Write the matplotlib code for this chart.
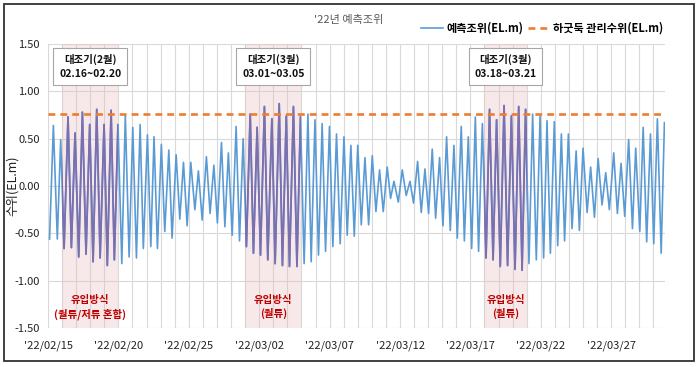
"""Predicted tide level chart, Feb-Mar 2022."""

import matplotlib

matplotlib.use("Agg")
import matplotlib.pyplot as plt
from matplotlib.patches import Rectangle

plt.rcParams["font.family"] = ["Noto Sans CJK KR", "DejaVu Sans"]

# time in days after 2022-02-15 00:00, tide level (EL.m) at each high / low water
tide_days = [
    0.11, 0.38, 0.66, 0.90, 1.14, 1.42, 1.66, 1.92, 2.18, 2.44,
    2.70, 2.96, 3.20, 3.46, 3.70, 3.98, 4.21, 4.48, 4.71, 4.97,
    5.24, 5.49, 5.76, 6.02, 6.28, 6.54, 6.77, 7.06, 7.30, 7.53,
    7.77, 8.05, 8.29, 8.58, 8.81, 9.10, 9.36, 9.62, 9.88, 10.14,
    10.43, 10.68, 10.95, 11.25, 11.51, 11.78, 12.03, 12.32, 12.56, 12.81,
    13.08, 13.36, 13.60, 13.86, 14.09, 14.36, 14.59, 14.85, 15.09, 15.37,
    15.61, 15.90, 16.13, 16.42, 16.65, 16.92, 17.15, 17.43, 17.68, 17.93,
    18.19, 18.46, 18.69, 18.96, 19.21, 19.47, 19.71, 19.99, 20.23, 20.49,
    20.75, 21.02, 21.25, 21.51, 21.75, 22.00, 22.25, 22.51, 22.77, 23.03,
    23.29, 23.55, 23.81, 24.09, 24.33, 24.57, 24.88, 25.16, 25.44, 25.71,
    25.96, 26.25, 26.51, 26.77, 27.03, 27.29, 27.53, 27.81, 28.05, 28.31,
    28.57, 28.83, 29.07, 29.35, 29.57, 29.85, 30.09, 30.35, 30.58, 30.85,
    31.11, 31.36, 31.61, 31.86, 32.12, 32.39, 32.64, 32.91, 33.17, 33.43,
    33.67, 33.92, 34.16, 34.42, 34.68, 34.95, 35.20, 35.44, 35.68, 35.96,
    36.20, 36.46, 36.69, 36.96, 37.22, 37.51, 37.74, 38.00, 38.29, 38.54,
    38.81, 39.07, 39.35, 39.61, 39.87, 40.18, 40.44, 40.70, 40.96, 41.24,
    41.51, 41.74, 42.03, 42.27, 42.52, 42.79, 43.02, 43.28, 43.55, 43.78,
]
tide_level = [
    -0.56, 0.64, -0.56, 0.49, -0.66, 0.73, -0.65, 0.56, -0.75, 0.78,
    -0.72, 0.65, -0.80, 0.81, -0.76, 0.65, -0.84, 0.80, -0.78, 0.65,
    -0.82, 0.75, -0.75, 0.62, -0.76, 0.65, -0.66, 0.54, -0.64, 0.52,
    -0.66, 0.44, -0.48, 0.38, -0.55, 0.33, -0.35, 0.25, -0.42, 0.25,
    -0.25, 0.16, -0.36, 0.31, -0.29, 0.22, -0.39, 0.46, -0.43, 0.35,
    -0.52, 0.63, -0.58, 0.50, -0.64, 0.76, -0.71, 0.62, -0.73, 0.84,
    -0.78, 0.71, -0.82, 0.87, -0.84, 0.74, -0.85, 0.84, -0.85, 0.73,
    -0.82, 0.76, -0.80, 0.70, -0.73, 0.66, -0.69, 0.63, -0.64, 0.55,
    -0.61, 0.52, -0.52, 0.43, -0.53, 0.43, -0.41, 0.30, -0.41, 0.32,
    -0.27, 0.17, -0.27, 0.20, -0.13, 0.05, -0.17, 0.17, -0.10, 0.05,
    -0.18, 0.26, -0.28, 0.18, -0.29, 0.39, -0.34, 0.30, -0.42, 0.52,
    -0.47, 0.43, -0.55, 0.63, -0.58, 0.52, -0.66, 0.73, -0.69, 0.66,
    -0.76, 0.81, -0.78, 0.70, -0.85, 0.85, -0.84, 0.74, -0.88, 0.84,
    -0.89, 0.81, -0.82, 0.76, -0.78, 0.74, -0.76, 0.69, -0.71, 0.68,
    -0.63, 0.55, -0.58, 0.55, -0.45, 0.37, -0.47, 0.40, -0.28, 0.20,
    -0.33, 0.29, -0.20, 0.14, -0.25, 0.35, -0.29, 0.24, -0.32, 0.49,
    -0.45, 0.40, -0.48, 0.62, -0.59, 0.55, -0.61, 0.71, -0.71, 0.67,
]
barrage_level = 0.76

# spring-tide periods (days after 02/15)
spring_start = [1, 14, 31]
spring_end = [5, 18, 34]
spring_titles = ["대조기(2월)\n02.16~02.20", "대조기(3월)\n03.01~03.05", "대조기(3월)\n03.18~03.21"]
inflow_notes = ["유입방식\n(월류/저류 혼합)", "유입방식\n(월류)", "유입방식\n(월류)"]

tick_days = [0, 5, 10, 15, 20, 25, 30, 35, 40]
tick_labels = ["'22/02/15", "'22/02/20", "'22/02/25", "'22/03/02", "'22/03/07",
               "'22/03/12", "'22/03/17", "'22/03/22", "'22/03/27"]

BLUE = "#5B9BD5"
PURPLE = "#7B6FB0"
ORANGE = "#ED7D31"

fig = plt.figure(figsize=(6.98, 3.67), dpi=100)
ax = fig.add_axes([0.0688, 0.1063, 0.8839, 0.7737])

ax.set_xlim(0, 43.82)
ax.set_ylim(-1.5, 1.5)
ax.set_yticks([-1.5, -1.0, -0.5, 0.0, 0.5, 1.0, 1.5])
ax.set_yticklabels([f"{v:.2f}" for v in ax.get_yticks()])
ax.set_xticks(tick_days)
ax.set_xticklabels(tick_labels)
ax.set_xticks(range(0, 44), minor=True)
ax.tick_params(which="both", length=0, labelsize=8, colors="#222222")
ax.tick_params(axis="x", pad=9)
ax.tick_params(axis="y", pad=6)
ax.grid(True, which="both", axis="x", color="#D9D9D9", lw=0.8)
ax.grid(True, which="major", axis="y", color="#D9D9D9", lw=0.8)
ax.set_axisbelow(True)
for s in ax.spines.values():
    s.set_visible(False)

ax.plot(tide_days, tide_level, color=BLUE, lw=1.2, zorder=3, solid_joinstyle="round",
        label="예측조위(EL.m)")
ax.axhline(barrage_level, color=ORANGE, lw=1.9, dashes=(2.6, 1.9), zorder=4,
           label="하굿둑 관리수위(EL.m)")

for x0, x1, title, note in zip(spring_start, spring_end, spring_titles, inflow_notes):
    span = ax.axvspan(x0, x1, color="#E6B8B7", alpha=0.3, lw=0, zorder=2)
    # purple copy of the tide curve, only visible inside the spring-tide band
    seg, = ax.plot(tide_days, tide_level, color=PURPLE, lw=1.3, zorder=3.5,
                   solid_joinstyle="round")
    seg.set_clip_path(span)
    xc = (x0 + x1) / 2
    ax.text(xc, 1.26, title, ha="center", va="center", fontsize=7.5, fontweight="bold",
            linespacing=1.5, color="#111111", zorder=6,
            bbox=dict(boxstyle="square,pad=0.55", fc="white", ec="#A6A6A6", lw=0.8))
    ax.text(xc, -1.28, note, ha="center", va="center", fontsize=7.5, fontweight="bold",
            linespacing=1.35, color="#C00000", zorder=6)

fig.text(349 / 698, 1 - 20 / 367, "'22년 예측조위", ha="center", va="center",
         fontsize=8, color="#595959")
fig.text(12 / 698, 0.493, "수위(EL.m)", rotation=90, ha="center", va="center",
         fontsize=9, color="#222222")

leg = ax.legend(loc="center right", bbox_to_anchor=(0.965, 1 - 28 / 367),
                bbox_transform=fig.transFigure, ncol=2, frameon=False,
                handlelength=2.0, handletextpad=0.3, columnspacing=0.4,
                prop={"size": 8, "weight": "bold"})

fig.patches.append(Rectangle((4 / 698, 6 / 367), 690 / 698, 357 / 367,
                             transform=fig.transFigure, fill=False,
                             ec="#333333", lw=1.3))

fig.savefig("out.png", dpi=100)
plt.close(fig)
